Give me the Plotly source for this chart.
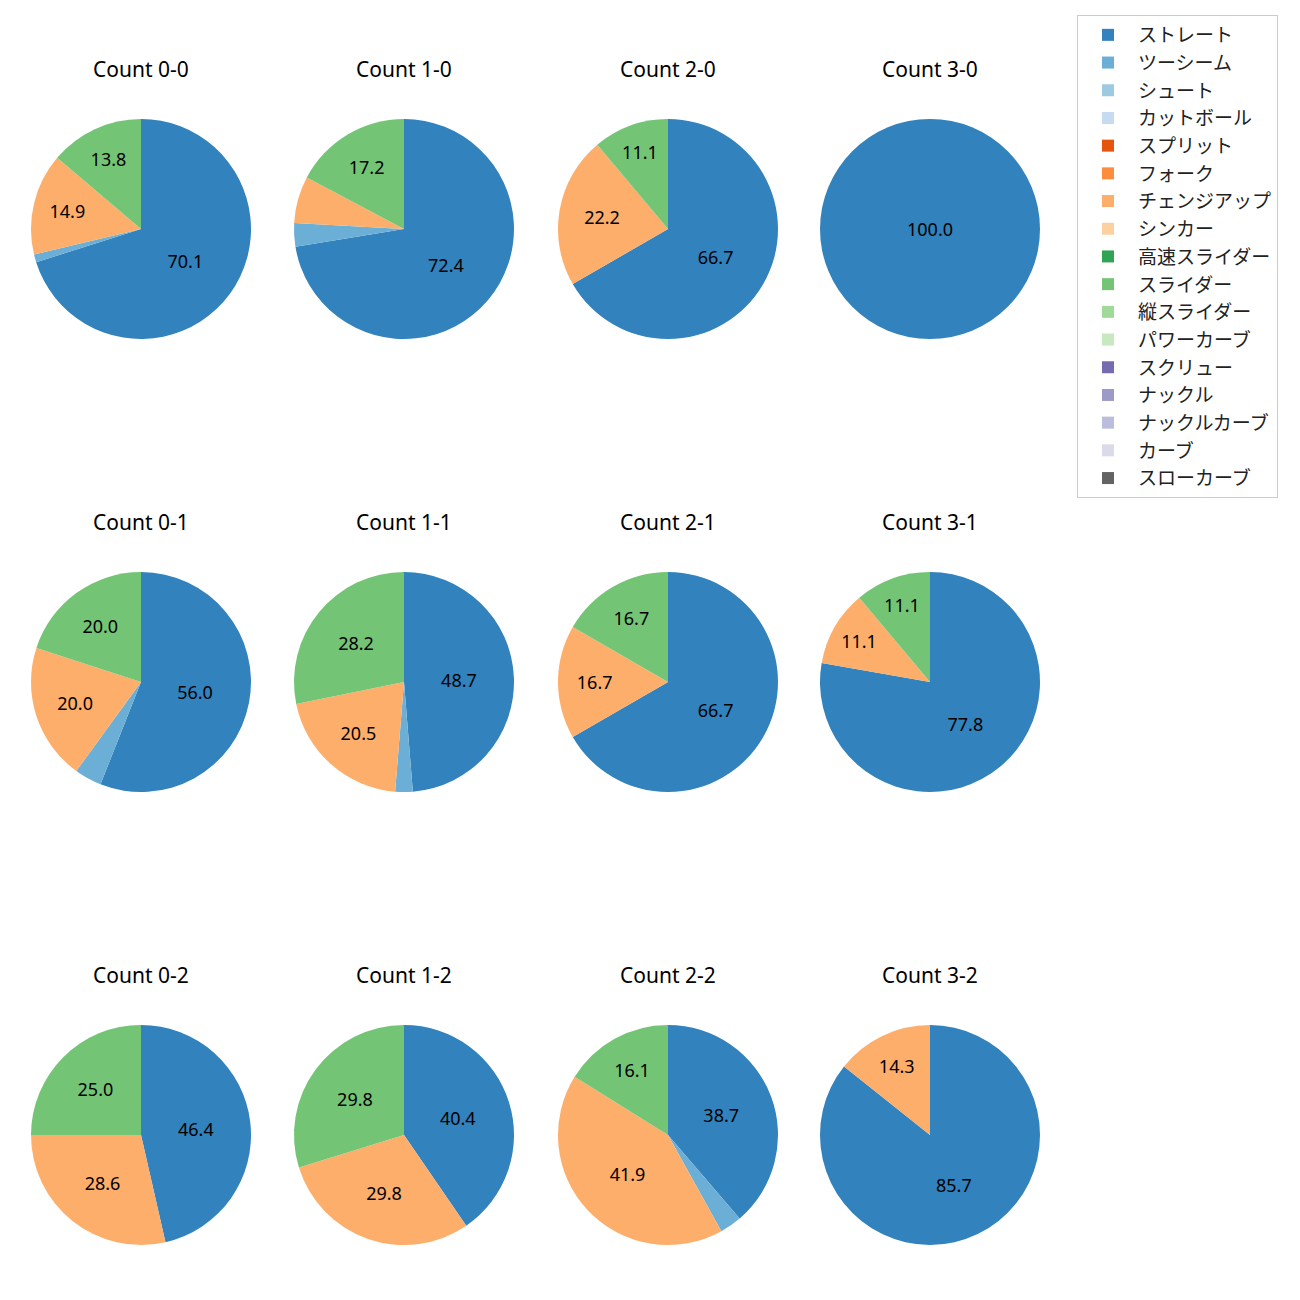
import plotly.graph_objects as go

pitch_types = ["ストレート", "ツーシーム", "シュート", "カットボール", "スプリット", "フォーク",
               "チェンジアップ", "シンカー", "高速スライダー", "スライダー", "縦スライダー",
               "パワーカーブ", "スクリュー", "ナックル", "ナックルカーブ", "カーブ", "スローカーブ"]
colors = ["#3182bd", "#6baed6", "#9ecae1", "#c6dbef", "#e6550d", "#fd8d3c", "#fdae6b", "#fdd0a2",
          "#31a354", "#74c476", "#a1d99b", "#c7e9c0", "#756bb1", "#9e9ac8", "#bcbddc", "#dadaeb",
          "#636363"]

counts = ["0-0", "1-0", "2-0", "3-0",
          "0-1", "1-1", "2-1", "3-1",
          "0-2", "1-2", "2-2", "3-2"]

# pitch counts per situation: ストレート, ツーシーム, チェンジアップ, スライダー
straight = [61, 21, 6, 3, 14, 19, 4, 7, 13, 19, 12, 6]
two_seam = [1, 1, 0, 0, 1, 1, 0, 0, 0, 0, 1, 0]
changeup = [13, 2, 2, 0, 5, 8, 1, 1, 8, 14, 13, 1]
slider = [12, 5, 1, 0, 5, 11, 1, 1, 7, 14, 5, 0]

OFF = 8  # page body margin
col_cx = [141 - OFF, 404 - OFF, 668 - OFF, 930 - OFF]
row_cy = [229 - OFF, 682 - OFF, 1135 - OFF]
R = 110
W = H = 1300

fig = go.Figure()
annotations = []
for i, c in enumerate(counts):
    r, k = divmod(i, 4)
    vals = [0.0] * len(pitch_types)
    vals[0] = straight[i]
    vals[1] = two_seam[i]
    vals[6] = changeup[i]
    vals[9] = slider[i]
    tot = sum(vals)
    texts = [("%.1f" % (v / tot * 100)) if v / tot * 100 >= 10 else "" for v in vals]
    cx, cy = col_cx[k], row_cy[r]
    fig.add_trace(go.Pie(
        labels=pitch_types, values=vals, sort=False, direction="clockwise", rotation=0,
        marker=dict(colors=colors, line=dict(width=0)),
        text=texts, textinfo="text", textposition="inside",
        insidetextorientation="horizontal",
        textfont=dict(color="black", size=18, family="Noto Sans"),
        hoverinfo="label+percent",
        domain=dict(x=[(cx - R) / W, (cx + R) / W], y=[1 - (cy + R) / H, 1 - (cy - R) / H]),
        showlegend=(i == 0),
        name=c,
    ))
    annotations.append(dict(text="Count " + c, x=cx / W, y=1 - (cy - 160) / H,
                            xref="paper", yref="paper", showarrow=False,
                            xanchor="center", yanchor="middle",
                            font=dict(size=21, color="black", family="Noto Sans")))

fig.update_layout(
    width=W, height=H,
    margin=dict(l=0, r=0, t=0, b=0),
    paper_bgcolor="white", plot_bgcolor="white",
    font=dict(family="Noto Sans CJK JP", color="black"),
    annotations=annotations,
    legend=dict(x=(1077 - OFF) / W, y=1 - (15 - OFF) / H, xanchor="left", yanchor="top",
                bordercolor="#cccccc", borderwidth=1, itemwidth=50,
                font=dict(size=19, family="Noto Sans CJK JP", color="#222222"),
                traceorder="normal"),
)
fig.write_html("out.html")
